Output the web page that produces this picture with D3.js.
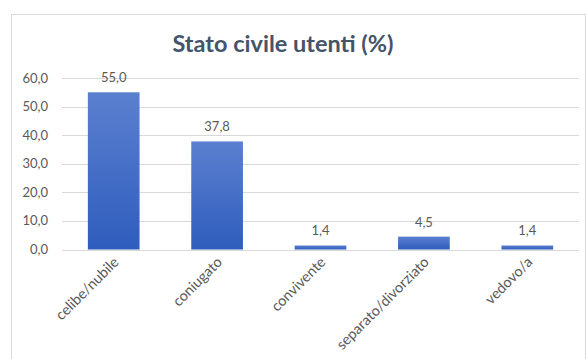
<!DOCTYPE html>
<html>
<head>
<meta charset="utf-8">
<script src="https://cdn.jsdelivr.net/npm/d3@7"></script>
<style>
  body { margin: 0; background: #fff; }
  svg { display: block; font-family: Lato, "Open Sans", sans-serif; }
</style>
</head>
<body>
<div id="chart"></div>
<script>
const categories = ['celibe/nubile', 'coniugato', 'convivente', 'separato/divorziato', 'vedovo/a'];
const values     = [55.0, 37.8, 1.4, 4.5, 1.4];
const yTicks     = [0, 10, 20, 30, 40, 50, 60];

const W = 586, H = 359;
const fmt = v => v.toFixed(1).replace('.', ',');

const svg = d3.select('#chart').append('svg')
  .attr('width', W).attr('height', H);

// chart frame
svg.append('rect')
  .attr('x', 11.5).attr('y', 14.5)
  .attr('width', 574).attr('height', 360)
  .attr('fill', '#fff').attr('stroke', '#d9d9d9');

const grad = svg.append('defs').append('linearGradient')
  .attr('id', 'barGrad').attr('x1', 0).attr('y1', 0).attr('x2', 0).attr('y2', 1);
grad.append('stop').attr('offset', '0%').attr('stop-color', '#5b80d0');
grad.append('stop').attr('offset', '100%').attr('stop-color', '#2f5dbd');

const x = d3.scaleBand().domain(categories).range([62, 579]).paddingInner(0.5).paddingOuter(0.25);
const y = d3.scaleLinear().domain([0, 60]).range([249.5, 78]);

// gridlines
svg.append('g').selectAll('line')
  .data(yTicks)
  .join('line')
  .attr('x1', 62).attr('x2', 579)
  .attr('y1', d => Math.round(y(d)) + 0.5).attr('y2', d => Math.round(y(d)) + 0.5)
  .attr('stroke', '#d9d9d9').attr('stroke-width', 1);

// y labels
svg.append('g').selectAll('text')
  .data(yTicks)
  .join('text')
  .attr('x', 48).attr('y', d => y(d))
  .attr('dy', '0.35em')
  .attr('text-anchor', 'end')
  .attr('font-size', 13)
  .attr('fill', '#595959')
  .text(fmt);

// bars
svg.append('g').selectAll('rect')
  .data(values)
  .join('rect')
  .attr('x', (d, i) => x(categories[i]))
  .attr('width', x.bandwidth())
  .attr('y', d => y(d))
  .attr('height', d => y(0) - y(d))
  .attr('fill', 'url(#barGrad)');

// data labels
svg.append('g').selectAll('text')
  .data(values)
  .join('text')
  .attr('x', (d, i) => x(categories[i]) + x.bandwidth() / 2)
  .attr('y', d => y(d) - 10)
  .attr('text-anchor', 'middle')
  .attr('font-size', 13)
  .attr('fill', '#595959')
  .text(fmt);

// x labels
svg.append('g').selectAll('text')
  .data(categories)
  .join('text')
  .attr('transform', d => `translate(${x(d) + x.bandwidth() / 2 + 6},${263}) rotate(-45)`)
  .attr('text-anchor', 'end')
  .attr('font-size', 14.5)
  .attr('fill', '#595959')
  .text(d => d);

// title
svg.append('text')
  .attr('x', 283).attr('y', 52)
  .attr('text-anchor', 'middle')
  .attr('font-size', 23.5)
  .attr('font-weight', 'bold')
  .attr('fill', '#44546a')
  .text('Stato civile utenti (%)');
</script>
</body>
</html>
